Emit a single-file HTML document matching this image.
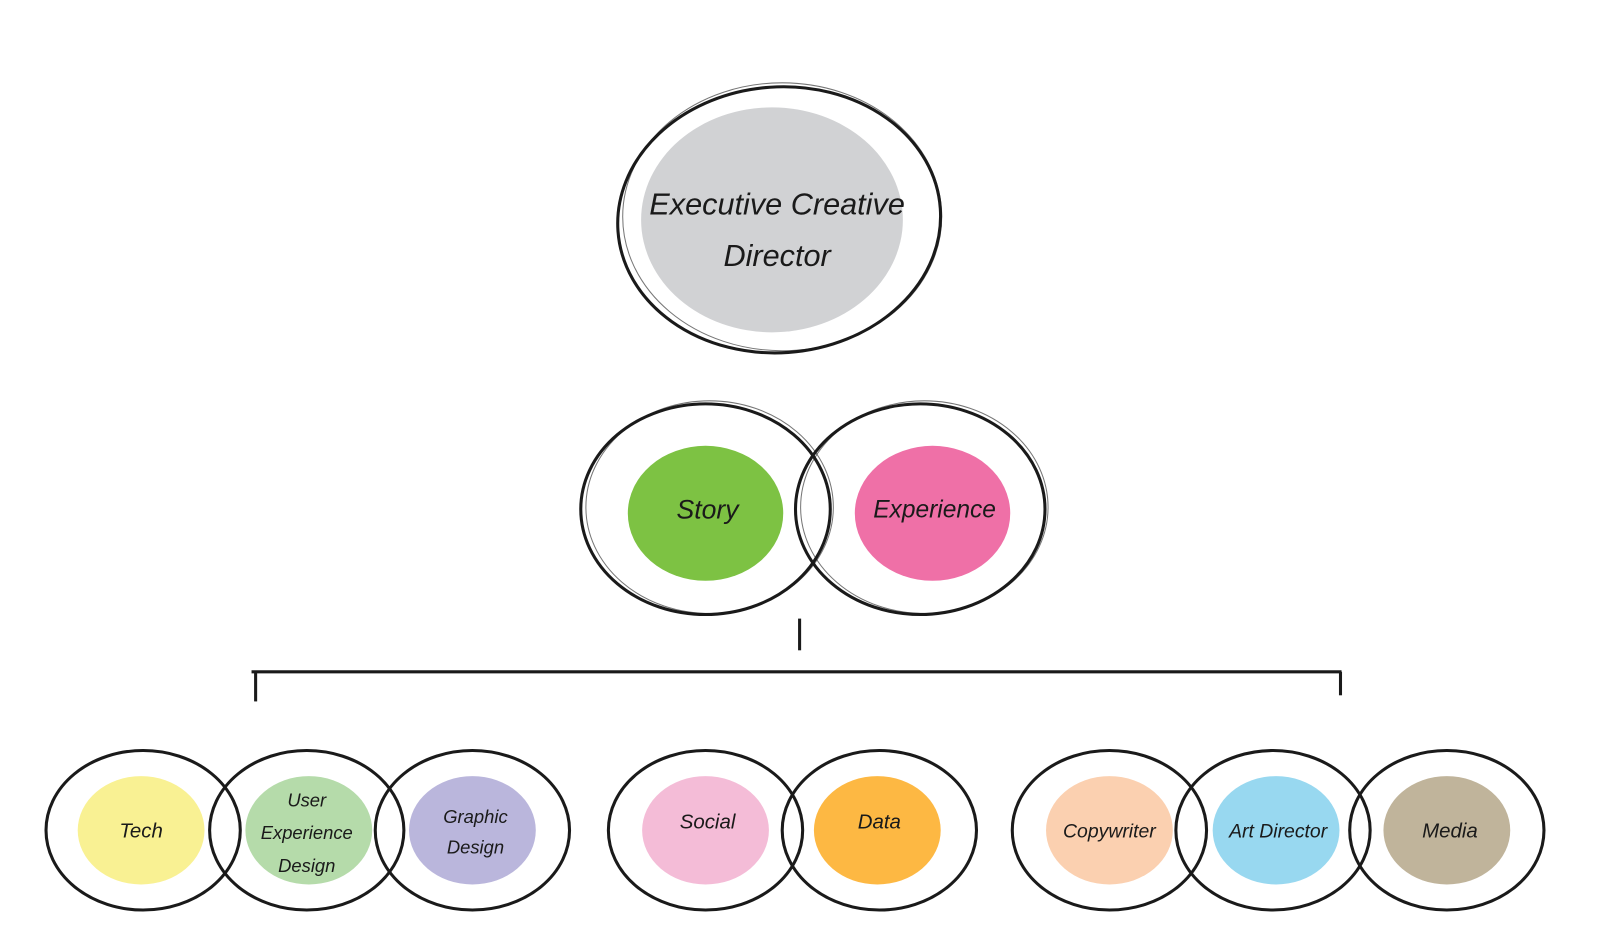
<!DOCTYPE html>
<html><head><meta charset="utf-8"><style>
html,body{margin:0;padding:0;background:#fff;}
svg{display:block}
text{font-family:"Liberation Sans",sans-serif;fill:#1a1a1a;text-anchor:middle;dominant-baseline:middle;font-style:italic}
.r{fill:none;stroke:#1a1a1a;stroke-width:3}
.r2{fill:none;stroke:#1a1a1a;stroke-width:1;opacity:.6}
</style></head><body>
<svg width="1600" height="951" viewBox="0 0 1600 951" xmlns="http://www.w3.org/2000/svg">
<g transform="scale(1.0225)">
<!-- top -->
<ellipse cx="755" cy="215" rx="128" ry="110" fill="#d1d2d4"/>
<ellipse class="r" cx="762" cy="215" rx="158" ry="130" transform="rotate(-4 762 215)"/>
<ellipse class="r2" cx="765" cy="212" rx="156" ry="131"/>
<text x="760" y="202" font-size="30">Executive Creative</text>
<text x="760" y="252" font-size="30">Director</text>
<!-- middle -->
<ellipse cx="690" cy="502" rx="76" ry="66" fill="#7dc243"/>
<ellipse cx="912" cy="502" rx="76" ry="66" fill="#ef70a7"/>
<ellipse class="r" cx="690" cy="498" rx="122" ry="103"/>
<ellipse class="r" cx="900" cy="498" rx="122" ry="103"/>
<ellipse class="r2" cx="694" cy="496" rx="121" ry="104"/>
<ellipse class="r2" cx="904" cy="496" rx="121" ry="104"/>
<text x="692" y="500" font-size="26">Story</text>
<text x="914" y="500" font-size="24">Experience</text>
<!-- connectors -->
<line x1="782" y1="605" x2="782" y2="636" stroke="#1a1a1a" stroke-width="3"/>
<line x1="246" y1="657" x2="1312" y2="657" stroke="#1a1a1a" stroke-width="3"/>
<line x1="250" y1="657" x2="250" y2="686" stroke="#1a1a1a" stroke-width="3"/>
<line x1="1311" y1="657" x2="1311" y2="680" stroke="#1a1a1a" stroke-width="3"/>
<!-- bottom blobs -->
<ellipse cx="138" cy="812" rx="62" ry="53" fill="#f9f193"/>
<ellipse cx="302" cy="812" rx="62" ry="53" fill="#b5dbaa"/>
<ellipse cx="462" cy="812" rx="62" ry="53" fill="#bab6dc"/>
<ellipse cx="690" cy="812" rx="62" ry="53" fill="#f4bcd7"/>
<ellipse cx="858" cy="812" rx="62" ry="53" fill="#fdb843"/>
<ellipse cx="1085" cy="812" rx="62" ry="53" fill="#fbd0b0"/>
<ellipse cx="1248" cy="812" rx="62" ry="53" fill="#98d8f0"/>
<ellipse cx="1415" cy="812" rx="62" ry="53" fill="#c0b49b"/>
<ellipse class="r" cx="140" cy="812" rx="95" ry="78"/>
<ellipse class="r" cx="300" cy="812" rx="95" ry="78"/>
<ellipse class="r" cx="462" cy="812" rx="95" ry="78"/>
<ellipse class="r" cx="690" cy="812" rx="95" ry="78"/>
<ellipse class="r" cx="860" cy="812" rx="95" ry="78"/>
<ellipse class="r" cx="1085" cy="812" rx="95" ry="78"/>
<ellipse class="r" cx="1245" cy="812" rx="95" ry="78"/>
<ellipse class="r" cx="1415" cy="812" rx="95" ry="78"/>
<text x="138" y="814" font-size="20">Tech</text>
<text x="300" y="784" font-size="18">User</text>
<text x="300" y="816" font-size="18">Experience</text>
<text x="300" y="848" font-size="18">Design</text>
<text x="465" y="800" font-size="18">Graphic</text>
<text x="465" y="830" font-size="18">Design</text>
<text x="692" y="805" font-size="20">Social</text>
<text x="860" y="805" font-size="20">Data</text>
<text x="1085" y="814" font-size="19">Copywriter</text>
<text x="1250" y="814" font-size="19">Art Director</text>
<text x="1418" y="814" font-size="20">Media</text>
</g>
</svg>
</body></html>
